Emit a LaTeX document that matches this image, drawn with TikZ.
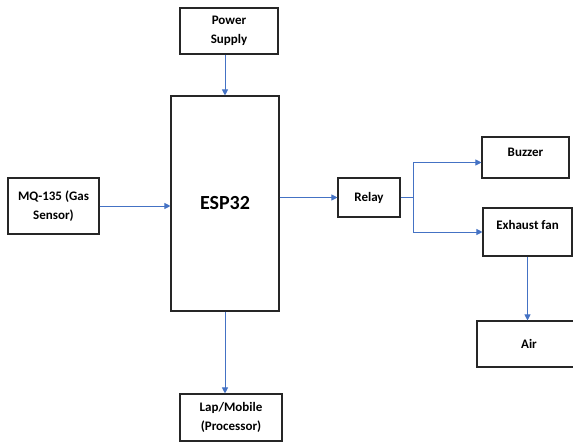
\documentclass[tikz,border=0pt]{standalone}
\usepackage{fontspec}
\setmainfont{Carlito}
\usetikzlibrary{arrows.meta}
\definecolor{arrowblue}{RGB}{68,114,196}

\begin{document}
\begin{tikzpicture}[x=1pt, y=-1pt,
        blk/.style={draw=black!85, line width=1.1pt, inner sep=0pt, align=center,
            font=\fontsize{13}{19}\selectfont\bfseries},
        link/.style={draw=arrowblue, line width=0.9pt, -{Triangle[length=6pt, width=6pt]}}]
                \useasboundingbox (0, 0) rectangle (573, 442);

                % blocks
                \node[blk, minimum width=98, minimum height=46] (power) at (229, 31) {Power\\Supply};
                \node[blk, minimum width=108, minimum height=215, font=\fontsize{20}{22}\selectfont\bfseries] (esp) at (225, 203.5) {ESP32};
                \node[blk, minimum width=91, minimum height=56] (mq) at (53.5, 206) {MQ-135 (Gas\\Sensor)};
                \node[blk, minimum width=102, minimum height=47] (lap) at (231, 417.5) {Lap/Mobile\\(Processor)};
                \node[blk, minimum width=62, minimum height=39] (relay) at (369, 197.5) {Relay};
                \node[blk, minimum width=87, minimum height=41, text depth=10pt] (buzzer) at (525.5, 157.5) {Buzzer};
                \node[blk, minimum width=89, minimum height=48, text depth=15pt] (fan) at (527.5, 232) {Exhaust fan};
                \node[blk, minimum width=104, minimum height=46] (air) at (529, 344) {Air};

                % connectors
                \draw[link] (esp.north |- power.south) -- (esp.north);
                \draw[link] (esp.south) -- (esp.south |- lap.north);
                \draw[link] (mq.east) -- (mq.east -| esp.west);
                \draw[link] (esp.east |- relay.west) -- (relay.west);
                \coordinate (split) at ([xshift=13pt] relay.east);
                \draw[draw=arrowblue, line width=0.9pt] (relay.east) -- (split);
                \draw[link] (split) |- ([yshift=-5pt] buzzer.west);
                \draw[link] (split) |- (fan.west);
                \draw[link] (fan.south) -- (fan.south |- air.north);
\end{tikzpicture}
\end{document}
